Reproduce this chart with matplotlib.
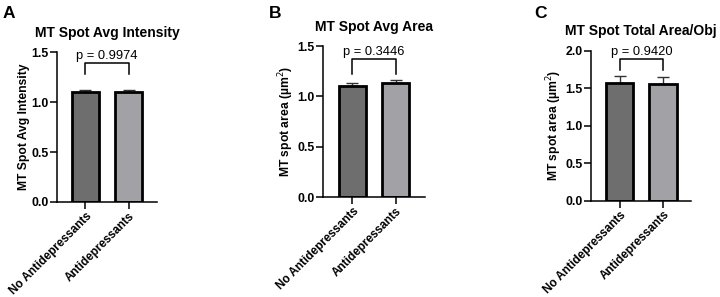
import matplotlib.pyplot as plt
import numpy as np

plt.rcParams['font.family'] = ['Liberation Sans', 'DejaVu Sans']

# Data
groups = ["No Antidepressants", "Antidepressants"]
bar_colors = ["#6e6e6e", "#a2a2a6"]

titles = ["MT Spot Avg Intensity", "MT Spot Avg Area", "MT Spot Total Area/Obj"]
ylabels = ["MT Spot Avg Intensity", "MT spot area (µm$^2$)", "MT spot area (µm$^2$)"]
panel_letters = ["A", "B", "C"]

intensity_mean = [1.10, 1.10]
intensity_err = [0.025, 0.02]
area_mean = [1.10, 1.135]
area_err = [0.032, 0.025]
total_mean = [1.565, 1.555]
total_err = [0.10, 0.09]
p_values = ["0.9974", "0.3446", "0.9420"]

means = [intensity_mean, area_mean, total_mean]
errs = [intensity_err, area_err, total_err]

# Layout (figure fractions) and per-panel axis settings
axes_rects = [
    [0.0792, 0.320, 0.139, 0.504],
    [0.4486, 0.3367, 0.1417, 0.508],
    [0.8208, 0.3242, 0.139, 0.505],
]
xlims = [(-0.66, 1.66), (-0.686, 1.686), (-0.655, 1.64)]
ylims = [1.5, 1.5, 2.0]
yticks = [np.arange(0, 1.51, 0.5), np.arange(0, 1.51, 0.5), np.arange(0, 2.01, 0.5)]
bracket_top = [1.39, 1.37, 1.885]
bracket_leg = [1.28, 1.22, 1.74]
letter_x = [0.004, 0.374, 0.742]

fig = plt.figure(figsize=(7.2, 2.97), dpi=100)

for i in range(3):
    ax = fig.add_axes(axes_rects[i])
    x = np.arange(len(groups))
    ax.errorbar(x, means[i], yerr=[np.zeros(2), errs[i]], fmt='none',
                ecolor='#333333', elinewidth=1.0, capsize=4.5, capthick=1.0, zorder=1)
    ax.bar(x, means[i], width=0.63, color=bar_colors, edgecolor='black',
           linewidth=2.0, zorder=2)

    # significance bracket
    ax.plot([0, 0, 1, 1], [bracket_leg[i], bracket_top[i], bracket_top[i], bracket_leg[i]],
            color='black', linewidth=1.1, clip_on=False)
    ax.text(0.5, bracket_top[i] + 0.01 * ylims[i], f"p = {p_values[i]}",
            ha='center', va='bottom', fontsize=9.3)

    ax.set_xlim(*xlims[i])
    ax.set_ylim(0, ylims[i])
    ax.set_yticks(yticks[i])
    ax.set_yticklabels([f"{v:.1f}" for v in yticks[i]], fontweight='bold', fontsize=8.8)
    ax.set_xticks(x)
    ax.set_xticklabels(groups, rotation=45, ha='right', rotation_mode='anchor',
                       fontweight='bold', fontsize=8.5)
    ax.tick_params(axis='both', direction='out', length=4.8, width=1.1, pad=1)
    for side in ['top', 'right']:
        ax.spines[side].set_visible(False)
    for side in ['left', 'bottom']:
        ax.spines[side].set_linewidth(1.1)
    ax.set_ylabel(ylabels[i], fontweight='bold', fontsize=8.7, labelpad=1)
    ax.set_title(titles[i], fontweight='bold', fontsize=10, pad=11)
    fig.text(letter_x[i], 0.955, panel_letters[i], fontweight='bold', fontsize=12.5,
             ha='left', va='center')

fig.savefig("out.png", dpi=100)
